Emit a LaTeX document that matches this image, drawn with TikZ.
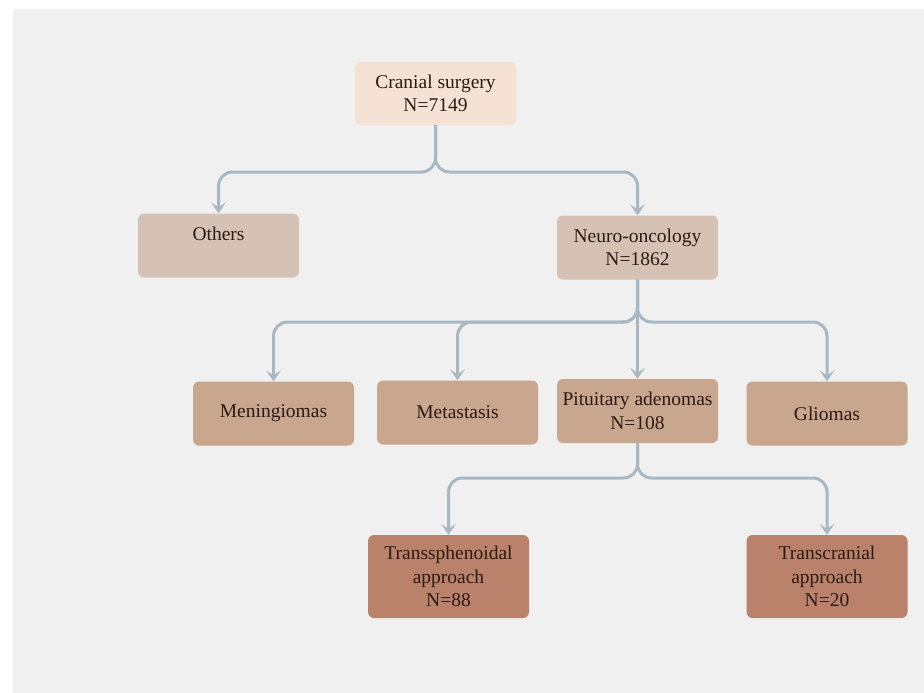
\documentclass[tikz,border=0pt]{standalone}
\usepackage{fontspec}
\setmainfont{Liberation Serif}
\usepackage{tikz}
\usetikzlibrary{positioning}
\usetikzlibrary{arrows.meta}

\definecolor{bgGray}{HTML}{F0F0F0}
\definecolor{linkBlue}{HTML}{A8B8C2}
\definecolor{lvlA}{HTML}{F6E2D4}
\definecolor{lvlB}{HTML}{D6C2B4}
\definecolor{lvlC}{HTML}{C9A68E}
\definecolor{lvlD}{HTML}{BA826A}
\definecolor{txtDark}{HTML}{2B1B14}

\begin{document}
\begin{tikzpicture}[x=1pt, y=-1pt,
    box/.style={rounded corners=6pt, minimum width=161pt, minimum height=64pt,
                align=center, text=txtDark, inner sep=3pt,
                font=\fontsize{19.5}{23.5}\selectfont},
    link/.style={draw=linkBlue, line width=3pt, rounded corners=14pt,
                 -{Stealth[length=11pt, width=15pt, inset=5pt]}}]
    \useasboundingbox (0,0) rectangle (924,693);
    \fill[bgGray] (13,9) rectangle (924,693);
    % boxes
    \node[box, fill=lvlA, minimum height=63pt] (Ncran) at (435.5,93.5) {Cranial surgery\\N=7149};
    \node[box, fill=lvlB] (Nothers) at (218.5,245.5) {Others\\\phantom{N}};
    \node[box, fill=lvlB] (Nneuro) at (637.5,247.5) {Neuro-oncology\\N=1862};
    \node[box, fill=lvlC] (Nmenin) at (273.5,413.5) {Meningiomas};
    \node[box, fill=lvlC] (Nmeta) at (457.5,412.5) {Metastasis};
    \node[box, fill=lvlC] (Npit) at (637.5,411) {Pituitary adenomas\\N=108};
    \node[box, fill=lvlC] (Nglio) at (827,413.5) {Gliomas};
    \node[box, fill=lvlD, minimum height=83pt] (Ntrans) at (448.5,576.5) {Transsphenoidal\\approach\\N=88};
    \node[box, fill=lvlD, minimum height=83pt] (Ntcran) at (827,576.5) {Transcranial\\approach\\N=20};
    % junctions
    \coordinate (J1) at (435.5,172);
    \coordinate (J2) at (637.5,322);
    \coordinate (J3) at (637.5,478);
    % links
    \draw[link] (Ncran.south) -- (J1) -| (Nothers.north);
    \draw[link] (Ncran.south) -- (J1) -| (Nneuro.north);
    \draw[link] (Nneuro.south) -- (J2) -| (Nmenin.north);
    \draw[link] (Nneuro.south) -- (J2) -| (Nmeta.north);
    \draw[link] (Nneuro.south) -- (Npit.north);
    \draw[link] (Nneuro.south) -- (J2) -| (Nglio.north);
    \draw[link] (Npit.south) -- (J3) -| (Ntrans.north);
    \draw[link] (Npit.south) -- (J3) -| (Ntcran.north);
\end{tikzpicture}
\end{document}
